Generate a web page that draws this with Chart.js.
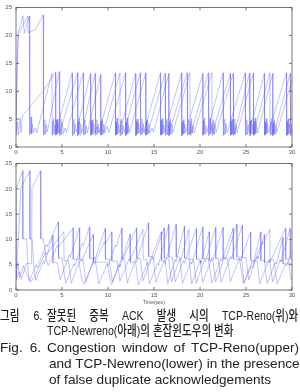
<!DOCTYPE html>
<html>
<head>
<meta charset="utf-8">
<script src="https://cdn.jsdelivr.net/npm/chart.js@4.4.1/dist/chart.umd.min.js"></script>
<style>
  body { margin: 0; background: #fff; width: 300px; height: 392px; position: relative; overflow: hidden; }
  canvas { position: absolute; left: 0; }
  #reno { top: 0; }
  #newreno { top: 156px; }
  .cap { position: absolute; font-family: "Liberation Sans", "Noto Sans CJK KR", sans-serif; line-height: 16px; color: #222; white-space: nowrap; }
  .ko { font-size: 13.2px; font-weight: 500; transform: scaleX(0.8); transform-origin: 0 0; }
  .en { font-size: 13.6px; }
  .just { text-align: justify; text-align-last: justify; }
</style>
</head>
<body>
<canvas id="reno" width="300" height="158"></canvas>
<canvas id="newreno" width="300" height="152"></canvas>

<div class="cap ko just" style="left:0;top:308px;width:53px">그림 6.</div>
<div class="cap ko just" style="left:47px;top:308px;width:314px">잘못된 중복 ACK 발생 시의 TCP-Reno(위)와</div>
<div class="cap ko" style="left:47px;top:323px">TCP-Newreno(아래)의 혼잡윈도우의 변화</div>
<div class="cap en just" style="left:0;top:340px;width:41px">Fig. 6.</div>
<div class="cap en just" style="left:47px;top:340px;width:252px">Congestion window of TCP-Reno(upper)</div>
<div class="cap en just" style="left:49px;top:356px;width:250px">and TCP-Newreno(lower) in the presence</div>
<div class="cap en" style="left:49px;top:372px">of false duplicate acknowledgements</div>

<script>
// axis ticks
const xTicks = [0, 5, 10, 15, 20, 25, 30];
const yTicks = [0, 5, 10, 15, 20, 25];

// TCP-Reno congestion windows, [time(sec), cwnd]
const renoA = [[0,2],[0.2,20.3],[0.76,23.5],[0.9,20.4],[1.45,23.5],
  [1.47,2.1],[1.52,4.8],[1.57,2.3],[1.64,5.4],[1.71,2.4],[1.79,4.1],[1.9,2.6],[2.1,3.4],[2.25,2.5],
  [3.9,13.2],[3.92,2.1],[3.97,4.6],[4.02,2.2],[4.09,5.1],[4.16,2.3],[4.24,3.9],[4.35,2.6],
  [6.1,13.3],[6.12,2.0],[6.17,4.4],[6.22,2.2],[6.29,5.0],[6.36,2.4],[6.44,4.1],[6.55,2.7],
  [8.1,13.2],[8.12,2.1],[8.17,4.7],[8.22,2.2],[8.29,4.9],[8.36,2.3],[8.44,4.2],[8.55,2.5],[8.8,3.6],[9.0,2.6],
  [10.8,13.3],[10.82,2.1],[10.87,4.5],[10.92,2.2],[10.99,5.2],[11.06,2.3],[11.14,4.0],[11.25,2.6],
  [13.0,13.2],[13.02,2.0],[13.07,4.6],[13.12,2.2],[13.19,5.0],[13.26,2.4],[13.34,4.3],[13.45,2.5],[13.7,3.5],[13.9,2.7],
  [15.7,13.3],[15.72,2.1],[15.77,4.8],[15.82,2.2],[15.89,5.1],[15.96,2.3],[16.04,4.0],[16.15,2.6],
  [18.0,13.3],[18.02,2.0],[18.07,4.5],[18.12,2.2],[18.19,4.9],[18.26,2.4],[18.34,4.1],[18.45,2.6],
  [20.3,13.2],[20.32,2.1],[20.37,4.7],[20.42,2.3],[20.49,5.2],[20.56,2.3],[20.64,3.9],[20.75,2.6],
  [22.5,13.3],[22.52,2.0],[22.57,4.6],[22.62,2.2],[22.69,5.0],[22.76,2.4],[22.84,4.2],[22.95,2.5],
  [24.9,13.3],[24.92,2.1],[24.97,4.8],[25.02,2.2],[25.09,4.9],[25.16,2.3],[25.24,4.0],[25.35,2.6],
  [27.0,13.2],[27.02,2.1],[27.07,4.5],[27.12,2.2],[27.19,5.1],[27.26,2.4],[27.34,4.2],[27.45,2.6],
  [29.4,13.3],[29.42,2.0],[29.47,4.6],[29.52,2.2],[29.59,5.0],[29.66,2.3],[29.74,4.1],[29.85,2.6],[30,3.6]];

const renoB = [[0,2.4],[0.12,14],[0.3,20.4],[1.3,23.5],[1.32,20.5],[2.1,21.0],[2.95,23.7],
  [2.97,2.1],[3.02,4.4],[3.07,2.2],[3.14,4.9],[3.21,2.4],[3.29,4.0],[3.4,2.7],
  [4.7,13.5],[4.72,2.0],[4.77,4.5],[4.82,2.3],[4.89,5.1],[4.96,2.2],[5.04,4.3],[5.15,2.4],[5.35,3.4],[5.5,2.6],
  [7.3,13.3],[7.32,2.1],[7.37,4.7],[7.42,2.2],[7.49,4.8],[7.56,2.3],[7.64,3.8],[7.75,2.5],
  [9.2,13.0],[9.22,2.1],[9.27,4.6],[9.32,2.2],[9.39,5.0],[9.46,2.3],[9.54,4.1],[9.65,2.5],[9.9,3.7],[10.1,2.6],
  [11.9,13.3],[11.92,2.0],[11.97,4.4],[12.02,2.2],[12.09,5.2],[12.16,2.4],[12.24,4.0],[12.35,2.6],
  [14.1,13.3],[14.12,2.1],[14.17,4.7],[14.22,2.2],[14.29,4.9],[14.36,2.3],[14.44,4.2],[14.55,2.5],[14.8,3.4],[14.95,2.6],
  [16.6,13.2],[16.62,2.0],[16.67,4.5],[16.72,2.2],[16.79,5.0],[16.86,2.3],[16.94,4.1],[17.05,2.6],
  [18.9,13.3],[18.92,2.1],[18.97,4.6],[19.02,2.2],[19.09,5.1],[19.16,2.4],[19.24,3.9],[19.35,2.5],
  [21.3,13.3],[21.32,2.1],[21.37,4.5],[21.42,2.3],[21.49,4.9],[21.56,2.2],[21.64,4.2],[21.75,2.6],
  [23.6,13.2],[23.62,2.0],[23.67,4.7],[23.72,2.2],[23.79,5.0],[23.86,2.3],[23.94,4.0],[24.05,2.6],
  [25.8,13.3],[25.82,2.1],[25.87,4.6],[25.92,2.2],[25.99,5.2],[26.06,2.4],[26.14,4.1],[26.25,2.5],
  [27.9,13.2],[27.92,2.0],[27.97,4.5],[28.02,2.2],[28.09,4.9],[28.16,2.3],[28.24,4.0],[28.35,2.6],
  [30,12.0]];

const renoC = [[0,2],[0.15,4.5],[0.25,2.2],[0.45,5.2],[0.55,2.5],[0.7,5.6],[2.9,9.9],
  [4.3,13.4],[4.32,2.1],[4.37,4.8],[4.42,2.2],[4.49,5.0],[4.56,2.4],[4.64,4.0],[4.75,2.6],
  [6.7,13.3],[6.72,2.0],[6.77,4.5],[6.82,2.3],[6.89,5.1],[6.96,2.2],[7.04,4.2],[7.15,2.5],
  [8.6,13.2],[8.62,2.1],[8.67,4.6],[8.72,2.2],[8.79,4.9],[8.86,2.4],[8.94,4.1],[9.05,2.5],[9.3,3.5],[9.5,2.6],
  [11.3,13.3],[11.32,2.0],[11.37,4.7],[11.42,2.2],[11.49,5.0],[11.56,2.3],[11.64,3.9],[11.75,2.6],
  [13.5,13.3],[13.52,2.1],[13.57,4.5],[13.62,2.2],[13.69,5.1],[13.76,2.4],[13.84,4.2],[13.95,2.5],[14.2,3.3],[14.35,2.6],
  [16.2,13.2],[16.22,2.0],[16.27,4.6],[16.32,2.3],[16.39,5.0],[16.46,2.2],[16.54,4.0],[16.65,2.6],
  [18.6,13.3],[18.62,2.1],[18.67,4.8],[18.72,2.2],[18.79,4.9],[18.86,2.3],[18.94,4.1],[19.05,2.5],
  [20.9,13.3],[20.92,2.0],[20.97,4.4],[21.02,2.2],[21.09,5.2],[21.16,2.4],[21.24,4.0],[21.35,2.6],
  [23.3,13.2],[23.32,2.1],[23.37,4.6],[23.42,2.2],[23.49,5.0],[23.56,2.3],[23.64,4.2],[23.75,2.5],
  [25.4,13.3],[25.42,2.0],[25.47,4.7],[25.52,2.2],[25.59,4.9],[25.66,2.4],[25.74,4.1],[25.85,2.6],
  [27.6,13.3],[27.62,2.1],[27.67,4.5],[27.72,2.3],[27.79,5.1],[27.86,2.2],[27.94,3.9],[28.05,2.5],
  [29.8,13.2],[29.82,2.0],[29.87,4.6],[29.93,2.2],[30,4.0]];

// TCP-Newreno congestion windows, [time(sec), cwnd]
const newA = [[0,2],[0.05,20.2],[0.73,23.6],[0.75,10.1],[1.15,10.1],[1.3,4.2],[1.45,1.8],
  [2.2,5.0],[2.3,4.4],[3.3,9.0],[3.4,8.6],[4.6,13.5],
  [4.62,6.3],[5.0,6.3],[5.4,1.3],[6.3,5.2],[6.4,4.8],[7.2,9.2],[7.3,8.8],[8.0,12.5],
  [8.02,6.2],[8.6,6.2],[9.0,1.2],[9.9,5.1],[10.0,4.7],[10.8,8.9],[10.9,8.6],[11.5,12.3],
  [11.52,6.2],[11.8,6.2],[12.1,1.4],[13.0,6.0],[13.1,5.5],[14.4,13.3],
  [14.42,6.6],[14.9,6.6],[15.2,1.5],[16.1,5.8],[16.2,5.2],[17.4,13.0],
  [17.42,6.5],[17.8,6.5],[18.1,1.3],[19.0,5.6],[19.1,5.1],[20.3,12.5],
  [20.32,6.2],[20.9,6.2],[21.3,1.4],[22.3,6.2],[22.4,5.8],[23.6,12.2],
  [23.62,6.1],[24.3,6.1],[24.7,1.3],[25.6,4.8],[25.7,4.4],[26.7,9.4],[26.8,9.0],[27.6,12.0],
  [27.62,6.0],[28.0,6.0],[28.4,1.2],[29.3,5.2],[29.4,4.8],[30,7.8]];

const newB = [[0,2.2],[0.3,12],[0.55,20.3],[1.5,23.6],[1.52,10.1],[1.75,10.1],[1.95,4.6],[2.15,1.9],
  [3.0,5.8],[3.1,5.2],[4.0,10.8],
  [4.02,5.4],[4.5,5.4],[4.8,2.0],[5.8,7.0],[5.9,6.5],[6.9,12.3],
  [6.92,6.1],[7.3,6.1],[7.6,1.5],[8.5,6.5],[8.6,6.1],[9.7,12.2],
  [9.72,6.1],[10.1,6.1],[10.5,1.6],[11.5,6.4],[11.6,6.0],[13.1,12.3],
  [13.12,6.2],[13.5,6.2],[13.8,1.8],[14.8,6.5],[14.9,6.0],[16.1,12.3],
  [16.12,6.2],[16.6,6.2],[16.9,1.6],[17.8,6.2],[17.9,5.7],[18.8,12.0],
  [18.82,6.0],[19.3,6.0],[19.6,1.4],[20.5,6.0],[20.6,5.6],[21.7,12.4],
  [21.72,6.2],[22.0,6.2],[22.3,1.5],[23.3,6.6],[23.4,6.1],[24.6,12.8],
  [24.62,6.4],[25.0,6.4],[25.3,2.0],[26.2,6.6],[26.3,6.2],[27.0,11.0],
  [27.02,5.5],[27.6,5.5],[27.9,1.6],[28.7,6.0],[28.8,5.6],[29.8,12.2],[29.82,6.1],[30,6.1]];

const newC = [[0,2],[0.35,3.6],[0.6,2.1],[1.1,5.2],[1.7,5.3],[1.74,20.2],[2.68,23.6],
  [2.7,10.1],[3.0,10.1],[3.25,6.3],[3.5,4.8],[4.5,8.8],[4.6,8.4],[6.2,12.3],
  [6.22,6.1],[6.8,6.1],[7.1,2.5],[7.4,1.2],[8.4,5.5],[8.5,5.1],[9.6,9.5],[9.7,9.0],[10.4,11.5],
  [10.42,5.7],[11.0,5.7],[11.3,1.8],[12.3,6.2],[12.4,5.8],[13.8,12.0],
  [13.82,6.0],[14.2,6.0],[14.5,1.2],[15.4,5.3],[15.5,4.9],[16.6,13.0],
  [16.62,6.5],[17.0,6.5],[17.3,1.6],[18.2,5.8],[18.3,5.3],[19.6,12.2],
  [19.62,6.1],[20.0,6.1],[20.3,1.5],[21.3,6.4],[21.4,5.9],[22.5,12.4],
  [22.52,6.2],[23.0,6.2],[23.3,1.7],[24.3,6.3],[24.4,5.8],[25.5,11.5],
  [25.52,5.8],[26.2,5.8],[26.5,1.2],[27.5,6.0],[27.6,5.5],[29.3,12.2],
  [29.32,6.1],[29.6,6.1],[29.9,2.0],[30,2.4]];

const newD = [[0,2.3],[0.2,5.5],[0.4,2.4],[0.8,4.8],[0.9,4.2],[1.6,1.6],[2.0,2.5],[3.2,7.5],[3.3,7.0],[5.2,11.5],
  [5.22,5.8],[5.7,5.8],[6.0,1.4],[7.0,6.0],[7.1,5.6],[8.4,11.0],
  [8.42,5.5],[9.9,5.5],[10.2,2.5],[10.4,1.1],[11.2,5.0],[11.3,4.6],[12.4,11.0],
  [12.42,5.5],[13.0,5.5],[13.3,1.0],[14.3,5.4],[14.4,5.0],[15.8,11.5],
  [15.82,5.8],[16.2,5.8],[16.5,1.3],[17.3,6.0],[17.4,5.6],[18.3,12.6],
  [18.32,6.3],[18.8,6.3],[19.1,1.2],[20.0,5.8],[20.1,5.3],[21.0,11.5],
  [21.02,5.8],[21.4,5.8],[21.7,1.6],[22.7,6.6],[22.8,6.2],[24.0,13.0],
  [24.02,6.5],[24.5,6.5],[24.8,1.4],[25.7,5.7],[25.8,5.3],[26.6,11.5],
  [26.62,5.8],[27.0,5.8],[27.3,1.3],[28.2,5.5],[28.3,5.1],[29.0,10.4],[29.02,5.2],[30,5.2]];

const lineColor = 'rgba(95,95,238,0.55)';

function toSet(pts) {
  return {
    data: pts.map(p => ({ x: p[0], y: p[1] })),
    borderColor: lineColor,
    borderWidth: 0.7,
    pointRadius: 0,
    tension: 0,
    fill: false
  };
}

// box round the plot with small inward tick marks, matlab style
const frame = {
  id: 'frame',
  afterDatasetsDraw(chart) {
    const { ctx, chartArea: a, scales: { x, y } } = chart;
    ctx.save();
    ctx.strokeStyle = '#555';
    ctx.lineWidth = 0.8;
    ctx.strokeRect(a.left, a.top, a.right - a.left, a.bottom - a.top);
    ctx.beginPath();
    xTicks.forEach(v => {
      const px = x.getPixelForValue(v);
      ctx.moveTo(px, a.bottom); ctx.lineTo(px, a.bottom - 3);
      ctx.moveTo(px, a.top); ctx.lineTo(px, a.top + 3);
    });
    yTicks.forEach(v => {
      const py = y.getPixelForValue(v);
      ctx.moveTo(a.left, py); ctx.lineTo(a.left + 3, py);
      ctx.moveTo(a.right, py); ctx.lineTo(a.right - 3, py);
    });
    ctx.stroke();
    ctx.restore();
  }
};

function makeChart(id, sets, padTop, xHeight, withTitle) {
  const tickFont = { family: 'Liberation Sans', size: 6 };
  return new Chart(document.getElementById(id), {
    type: 'line',
    data: { datasets: sets.map(toSet) },
    options: {
      responsive: false,
      animation: false,
      layout: { padding: { top: padTop, right: 8, left: 0, bottom: 0 } },
      plugins: { legend: { display: false }, tooltip: { enabled: false } },
      scales: {
        x: {
          type: 'linear', min: 0, max: 30,
          afterBuildTicks: s => { s.ticks = xTicks.map(v => ({ value: v })); },
          afterFit: s => { s.height = xHeight; },
          grid: { display: false, drawTicks: false },
          border: { display: false },
          ticks: { font: tickFont, color: '#555', padding: 2, maxRotation: 0 },
          title: { display: withTitle, text: 'Time(sec)', font: { family: 'Liberation Sans', size: 5 }, color: '#555', padding: { top: 0, bottom: 2 } }
        },
        y: {
          min: 0, max: 25,
          afterBuildTicks: s => { s.ticks = yTicks.map(v => ({ value: v })); },
          afterFit: s => { s.width = 16; },
          grid: { display: false, drawTicks: false },
          border: { display: false },
          ticks: { font: tickFont, color: '#555', padding: 4 }
        }
      }
    },
    plugins: [frame]
  });
}

makeChart('reno', [renoA, renoB, renoC], 7, 11, false);
makeChart('newreno', [newA, newB, newC, newD], 4, 18, true);
</script>
</body>
</html>
